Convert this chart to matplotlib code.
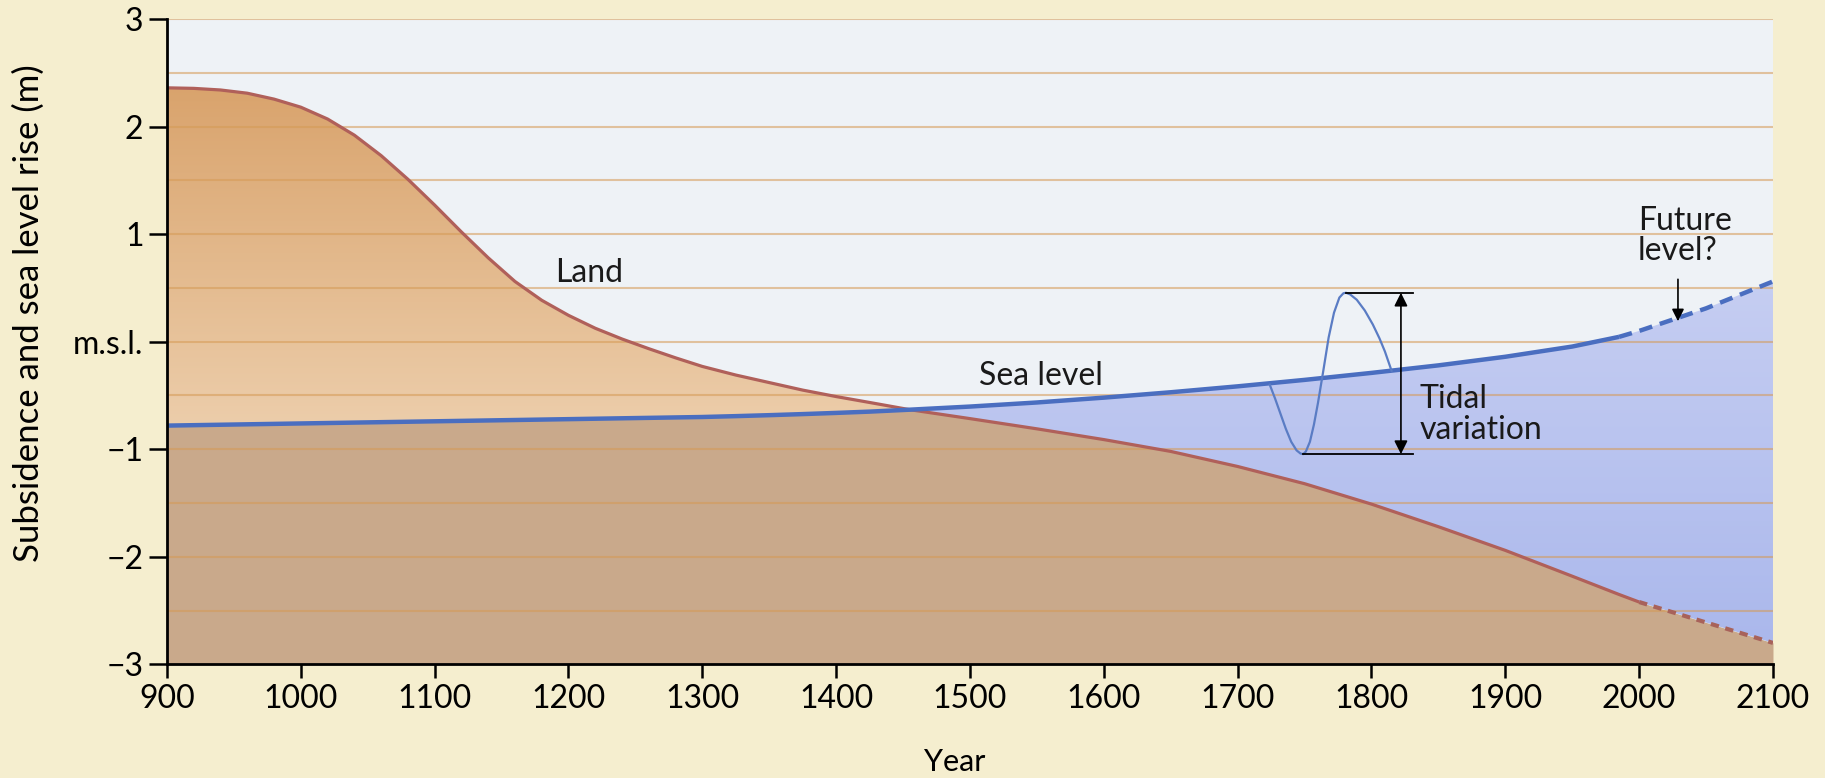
import numpy as np
import matplotlib.pyplot as plt
from matplotlib.patches import Polygon
from matplotlib.colors import LinearSegmentedColormap

# values (metres relative to mean sea level)
years = [900, 920, 940, 960, 980, 1000, 1020, 1040, 1060, 1080, 1100, 1120, 1140,
         1160, 1180, 1200, 1220, 1240, 1260, 1280, 1300, 1325, 1350, 1375, 1400, 1425,
         1455, 1500, 1550, 1600, 1650, 1700, 1750, 1800, 1850, 1900, 1950, 1985, 2000,
         2050, 2100]
land = [2.36, 2.355, 2.34, 2.31, 2.255, 2.18, 2.07, 1.92, 1.73, 1.51, 1.27, 1.02, 0.78,
        0.56, 0.385, 0.245, 0.125, 0.025, -0.065, -0.15, -0.23, -0.31, -0.38, -0.45, -0.51, -0.565,
        -0.632, -0.715, -0.81, -0.91, -1.02, -1.16, -1.32, -1.51, -1.72, -1.94, -2.18, -2.35, -2.42,
        -2.61, -2.80]
sea = [-0.78, -0.776, -0.772, -0.768, -0.764, -0.760, -0.756, -0.752, -0.748, -0.744, -0.740, -0.736, -0.732,
       -0.728, -0.724, -0.720, -0.716, -0.712, -0.708, -0.704, -0.700, -0.692, -0.683, -0.673, -0.662, -0.650,
       -0.632, -0.603, -0.565, -0.52, -0.47, -0.415, -0.355, -0.29, -0.22, -0.14, -0.045, 0.045, 0.10,
       0.31, 0.56]
sea_solid_end = 1985
land_solid_end = 2000

# one tidal cycle sketched on the sea level line
tide_years = [1724, 1728, 1732, 1736, 1740, 1744, 1747, 1749, 1751, 1754, 1757, 1760, 1764,
              1768, 1772, 1776, 1779, 1781, 1784, 1789, 1795, 1801, 1806, 1810, 1815]
tide_level = [-0.40, -0.53, -0.67, -0.81, -0.93, -1.01, -1.04, -1.045, -1.02, -0.93, -0.77, -0.57, -0.27,
              0.04, 0.27, 0.41, 0.45, 0.455, 0.44, 0.39, 0.29, 0.16, 0.03, -0.09, -0.27]
tide_high = 0.455
tide_low = -1.045

xticks = list(range(900, 2101, 100))
ytick_vals = [3, 2, 1, 0, -1, -2, -3]
ytick_labels = ['3', '2', '1', 'm.s.l.', '\u22121', '\u22122', '\u22123']
grid_levels = [-2.5, -2, -1.5, -1, -0.5, 0, 0.5, 1, 1.5, 2, 2.5, 3]

plt.rcParams['font.family'] = ['Lato', 'DejaVu Sans']
fs = 23

fig = plt.figure(figsize=(18.25, 7.78), dpi=100, facecolor='#f5eecf')
ax = fig.add_axes([0.0915, 0.146, 0.88, 0.8296])
ax.set_facecolor('#eef2f6')

x = np.array(years)
l = np.array(land)
s = np.array(sea)


def grad_fill(lower, upper, c_bot, c_top, y0, y1, z):
    verts = list(zip(x, upper)) + list(zip(x[::-1], lower[::-1]))
    poly = Polygon(verts, closed=True, facecolor='none', edgecolor='none')
    ax.add_patch(poly)
    cmap = LinearSegmentedColormap.from_list('g', [c_bot, c_top])
    im = ax.imshow(np.linspace(0, 1, 256)[:, None], extent=[900, 2100, y0, y1],
                   origin='lower', cmap=cmap, aspect='auto', zorder=z)
    im.set_clip_path(poly)


# land above the sea (orange), land under the sea (brown), sea over land (blue)
grad_fill(s, np.maximum(l, s), '#edcfad', '#d9a36c', -0.9, 2.4, 1)
ax.fill_between(x, -3, np.minimum(l, s), color='#c9a98b', lw=0, zorder=1)
grad_fill(np.minimum(l, s), s, '#abb8ec', '#c6cef2', -2.8, 0.6, 1)

for g in grid_levels:
    ax.axhline(g, color='#d59a55', lw=1.5, alpha=0.55, zorder=2)

# curves
m = x <= land_solid_end
ax.plot(x[m], l[m], color='#b0605a', lw=2.3, zorder=4, solid_capstyle='butt',
        solid_joinstyle='round')
m = x >= land_solid_end
ax.plot(x[m], l[m], color='#a8625a', lw=3, ls=(0, (2, 1.6)), zorder=4)
m = x <= sea_solid_end
ax.plot(x[m], s[m], color='#4a6ec0', lw=3.2, zorder=5, solid_capstyle='butt',
        solid_joinstyle='round')
m = x >= sea_solid_end
ax.plot(x[m], s[m], color='#4a6ec0', lw=3.2, ls=(0, (3, 1.8)), zorder=5)

ax.plot(tide_years, tide_level, color='#5a7cc4', lw=1.6, zorder=5, solid_joinstyle='round')
ax.plot([1781, 1831], [tide_high, tide_high], color='k', lw=1.3, zorder=6)
ax.plot([1749, 1831], [tide_low, tide_low], color='k', lw=1.3, zorder=6)
ax.annotate('', xy=(1822, tide_low), xytext=(1822, tide_high),
            arrowprops=dict(arrowstyle='<|-|>', color='k', lw=1.2, mutation_scale=20,
                            shrinkA=0, shrinkB=0), zorder=6)
ax.annotate('', xy=(2029, 0.19), xytext=(2029, 0.58),
            arrowprops=dict(arrowstyle='-|>', color='k', lw=1.2, mutation_scale=18,
                            shrinkA=0, shrinkB=0), zorder=6)

# labels in the plot
ax.text(1190, 0.64, 'Land', fontsize=fs, ha='left', va='center', color='#1a1a1a', zorder=7)
ax.text(1507, -0.32, 'Sea level', fontsize=fs, ha='left', va='center', color='#1a1a1a', zorder=7)
ax.text(1836, -0.68, 'Tidal\nvariation', fontsize=fs, ha='left', va='center',
        linespacing=1.05, color='#1a1a1a', zorder=7)
ax.text(1999, 0.98, 'Future\nlevel?', fontsize=fs, ha='left', va='center',
        linespacing=1.0, color='#1a1a1a', zorder=7)

ax.set_xlim(900, 2100)
ax.set_ylim(-3, 3)
ax.set_xticks(xticks)
ax.set_xticklabels([str(t) for t in xticks], fontsize=fs)
ax.set_yticks(ytick_vals)
ax.set_yticklabels(ytick_labels, fontsize=fs)
ax.tick_params(axis='y', direction='out', length=13, width=1.8, pad=4)
ax.tick_params(axis='x', direction='out', length=10, width=1.8, pad=4)
for side in ['top', 'right']:
    ax.spines[side].set_visible(False)
for side in ['left', 'bottom']:
    ax.spines[side].set_linewidth(2)
    ax.spines[side].set_zorder(8)

fig.text(0.016, 0.598, 'Subsidence and sea level rise (m)', rotation=90,
         ha='center', va='center', fontsize=25)
fig.text(0.523, 0.02, 'Year', ha='center', va='center', fontsize=22)

fig.savefig('out.png', dpi=100, facecolor=fig.get_facecolor())
